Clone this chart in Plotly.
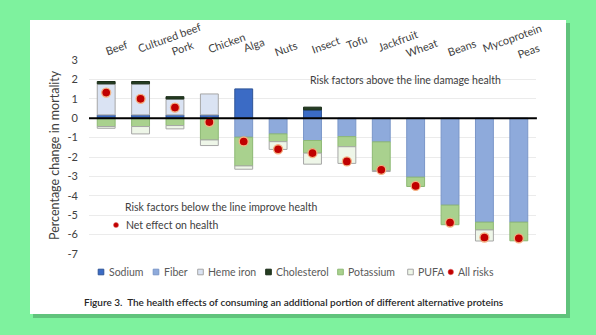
import plotly.graph_objects as go

# ---- data -------------------------------------------------------------
categories = ["Beef", "Cultured beef", "Pork", "Chicken", "Alga", "Nuts", "Insect",
              "Tofu", "Jackfruit", "Wheat", "Beans", "Mycoprotein", "Peas"]

sodium      = [0.17, 0.17, 0.17, 0.17, 1.51, None, 0.43, None, None, None, None, None, None]
fiber       = [None, None, None, None, -0.98, -0.81, -1.15, -0.95, -1.22, -3.04, -4.48, -5.36, -5.36]
heme_iron   = [1.60, 1.60, 0.82, 1.08, None, None, None, None, None, None, None, None, None]
cholesterol = [0.12, 0.12, 0.12, None, None, None, 0.14, None, None, None, None, None, None]
potassium   = [-0.43, -0.43, -0.38, -1.12, -1.48, -0.40, -0.65, -0.52, -1.48, -0.48, -1.01, -0.40, -0.96]
pufa        = [-0.09, -0.38, -0.17, -0.29, -0.17, -0.40, -0.57, -0.86, -0.05, None, None, -0.57, None]
all_risks   = [1.32, 1.00, 0.55, -0.20, -1.20, -1.60, -1.80, -2.23, -2.66, -3.49, -5.38, -6.15, -6.19]

y_ticks = [3, 2, 1, 0, -1, -2, -3, -4, -5, -6, -7]

# ---- page geometry (pixels) -------------------------------------------
W, H = 596, 335
ML, MR, MT, MB = 89, 60, 60, 81
PW, PH = W - ML - MR, H - MT - MB


def px(x):
    return (x - ML) / PW


def py(y):
    return (H - MB - y) / PH


FONT = "Lato"
TXT = "#404040"

series = [
    ("Sodium", sodium, "#3B6BC5", "#2F5597"),
    ("Fiber", fiber, "#8EAADB", "#7A96C8"),
    ("Heme iron", heme_iron, "#DAE3F3", "#A6A6A6"),
    ("Cholesterol", cholesterol, "#253D22", "#1A2C18"),
    ("Potassium", potassium, "#A9D18E", "#8DB874"),
    ("PUFA", pufa, "#EEF6E8", "#A6A6A6"),
]

fig = go.Figure()
for name, vals, fill, edge in series:
    fig.add_trace(go.Bar(
        x=categories, y=vals, name=name,
        marker=dict(color=fill, line=dict(color=edge, width=1)),
        width=0.52, showlegend=False,
    ))

fig.add_trace(go.Scatter(
    x=categories, y=all_risks, mode="markers", name="All risks",
    marker=dict(color="#C00000", size=9, line=dict(color="#F4B183", width=1.3)),
    showlegend=False,
))

shapes = [
    # card shadow and white card
    dict(type="rect", xref="paper", yref="paper", layer="below",
         x0=px(33), x1=px(570), y0=py(318), y1=py(23),
         fillcolor="rgba(40,110,60,0.35)", line=dict(width=0)),
    dict(type="rect", xref="paper", yref="paper", layer="below",
         x0=px(30), x1=px(566), y0=py(314), y1=py(20),
         fillcolor="white", line=dict(width=0)),
    # zero line on top of the bars
    dict(type="line", xref="paper", yref="y", layer="above",
         x0=0, x1=1.002, y0=0, y1=0, line=dict(color="black", width=2)),
]

annotations = []

# category labels across the top
label_nudge = [(10, 47), (28, 37), (8, 47), (17, 42), (10, 44), (7, 48), (13, 44),
               (10, 41), (16, 40), (6, 47), (11, 47), (28, 37), (10, 50)]
for cat, (dx, cy) in zip(categories, label_nudge):
    annotations.append(dict(
        x=cat, xref="x", y=1, yref="paper", xshift=dx, yshift=MT - cy,
        text=cat, textangle=-20, showarrow=False,
        xanchor="center", yanchor="middle",
        font=dict(family=FONT, size=11, color=TXT),
    ))

# y axis title
annotations.append(dict(
    x=px(54), y=py(155), xref="paper", yref="paper",
    text="Percentage change in mortality", textangle=-90, showarrow=False,
    xanchor="center", yanchor="middle",
    font=dict(family=FONT, size=12.5, color=TXT),
))

# explanatory notes inside the plot
annotations += [
    dict(x=px(308), y=py(80), xref="paper", yref="paper", xanchor="left", yanchor="middle",
         text="Risk factors above the line damage health", showarrow=False,
         font=dict(family=FONT, size=10.5, color=TXT)),
    dict(x=px(123), y=py(207), xref="paper", yref="paper", xanchor="left", yanchor="middle",
         text="Risk factors below the line improve health", showarrow=False,
         font=dict(family=FONT, size=10.5, color=TXT)),
    dict(x=px(124), y=py(225), xref="paper", yref="paper", xanchor="left", yanchor="middle",
         text="Net effect on health", showarrow=False,
         font=dict(family=FONT, size=10.5, color=TXT)),
]
shapes.append(dict(type="circle", xref="paper", yref="paper", layer="above",
                   x0=px(113.5), x1=px(118.5), y0=py(227.5), y1=py(222.5),
                   fillcolor="#C00000", line=dict(color="#E06060", width=0.5)))

# legend row
legend_y = 272
legend_pos = [101, 156, 200.5, 268.5, 340.5, 410.5]
for (name, _, fill, edge), cx in zip(series, legend_pos):
    shapes.append(dict(type="rect", xref="paper", yref="paper", layer="above",
                       x0=px(cx - 2.8), x1=px(cx + 2.8),
                       y0=py(legend_y + 2.8), y1=py(legend_y - 2.8),
                       fillcolor=fill, line=dict(color=edge, width=1)))
    annotations.append(dict(x=px(cx + 5.5), y=py(legend_y), xref="paper", yref="paper",
                            xanchor="left", yanchor="middle", text=name, showarrow=False,
                            font=dict(family=FONT, size=10.5, color="#595959")))
shapes.append(dict(type="circle", xref="paper", yref="paper", layer="above",
                   x0=px(448), x1=px(453.5), y0=py(legend_y + 2.8), y1=py(legend_y - 2.8),
                   fillcolor="#C00000", line=dict(color="#E06060", width=0.5)))
annotations.append(dict(x=px(456), y=py(legend_y), xref="paper", yref="paper",
                        xanchor="left", yanchor="middle", text="All risks", showarrow=False,
                        font=dict(family=FONT, size=10.5, color="#595959")))

# figure caption
annotations.append(dict(
    x=px(293.5), y=py(302), xref="paper", yref="paper", xanchor="center", yanchor="middle",
    text="Figure 3.  The health effects of consuming an additional portion of different alternative proteins",
    showarrow=False, font=dict(family=FONT, size=10, color="#262626", weight=600),
))

fig.update_layout(
    width=W, height=H,
    margin=dict(l=ML, r=MR, t=MT, b=MB, pad=0),
    paper_bgcolor="#7EF29E",
    plot_bgcolor="rgba(0,0,0,0)",
    barmode="relative",
    bargap=0.48,
    shapes=shapes,
    annotations=annotations,
    font=dict(family=FONT, color=TXT),
    showlegend=False,
)
fig.update_xaxes(range=[-0.5, len(categories) - 0.5], showticklabels=False,
                 showgrid=False, zeroline=False, showline=False, ticks="")
fig.update_yaxes(range=[-7, 3], tickvals=y_ticks, ticktext=[str(v) for v in y_ticks],
                 showgrid=True, gridcolor="#EBEBEB", gridwidth=1,
                 zeroline=False, showline=False, ticks="",
                 ticklabelstandoff=10,
                 tickfont=dict(family=FONT, size=11, color=TXT))

fig.write_html("out.html")
